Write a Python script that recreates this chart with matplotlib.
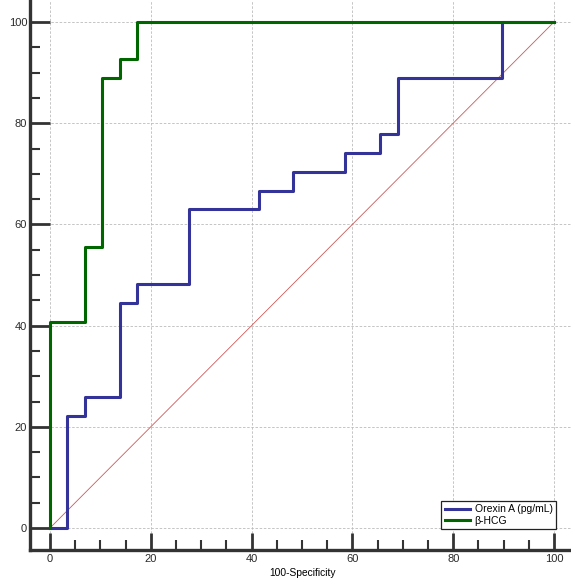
import matplotlib.pyplot as plt
from matplotlib.ticker import MultipleLocator

plt.rcParams['font.family'] = ['Liberation Sans', 'DejaVu Sans']

# ROC points (100-specificity, sensitivity)
orexin_fpr = [0, 3.45, 6.90, 13.79, 17.24, 27.59, 41.38, 48.28, 58.62, 65.52, 68.97, 89.66, 100]
orexin_tpr = [0, 22.22, 25.93, 44.44, 48.15, 62.96, 66.67, 70.37, 74.07, 77.78, 88.89, 100, 100]
hcg_fpr = [0, 0, 6.90, 10.34, 13.79, 17.24, 100]
hcg_tpr = [0, 40.74, 55.56, 88.89, 92.59, 100, 100]
series_names = ['Orexin A (pg/mL)', 'β-HCG']
ticks = [0, 20, 40, 60, 80, 100]

W, H = 571, 588
fig = plt.figure(figsize=(W / 100, H / 100), dpi=100)
# axes box in pixels: left 30, right 571, top 0, bottom 550
ax = fig.add_axes([30 / W, (H - 550) / H, 541 / W, 550 / H])

ax.plot([0, 100], [0, 100], color='#cc5a5a', lw=0.6, zorder=2)
ax.plot(orexin_fpr, orexin_tpr, drawstyle='steps-post', color='#333399', lw=2.2,
        label=series_names[0], zorder=3)
ax.plot(hcg_fpr, hcg_tpr, drawstyle='steps-post', color='#006600', lw=2.2,
        label=series_names[1], zorder=4)

ax.set_xlim((30 - 50) / 5.04, (571 - 50) / 5.04)
ax.set_ylim(-(550 - 528) / 5.06, 528 / 5.06)

ax.set_xticks(ticks)
ax.set_yticks(ticks)
ax.xaxis.set_minor_locator(MultipleLocator(5))
ax.yaxis.set_minor_locator(MultipleLocator(5))

ax.grid(True, which='major', color='#bbbbbb', ls=(0, (3, 2)), lw=0.6, zorder=0)

for s in ['top', 'right']:
    ax.spines[s].set_visible(False)
for s in ['left', 'bottom']:
    ax.spines[s].set_linewidth(2.4)
    ax.spines[s].set_color('#333333')

ax.tick_params(axis='y', which='major', direction='in', length=14.4, width=2.0,
               color='#333333', pad=2, labelsize=8, labelcolor='#2a2a2a')
ax.tick_params(axis='y', which='minor', direction='in', length=7.2, width=1.5,
               color='#333333')
ax.tick_params(axis='x', which='major', direction='in', length=12.2, width=2.0,
               color='#333333', pad=3, labelsize=8, labelcolor='#2a2a2a')
ax.tick_params(axis='x', which='minor', direction='in', length=7.2, width=1.5,
               color='#333333')

ax.set_xlabel('100-Specificity', fontsize=7.4, labelpad=3, x=0.5046)

leg = ax.legend(loc='lower right', bbox_to_anchor=(0.972, 0.038), borderaxespad=0,
                fontsize=7.5, fancybox=False, framealpha=1, edgecolor='#222222',
                handlelength=2.4, handletextpad=0.5, borderpad=0.3, labelspacing=0.15)
leg.get_frame().set_linewidth(0.9)

fig.savefig('out.png', dpi=100)
